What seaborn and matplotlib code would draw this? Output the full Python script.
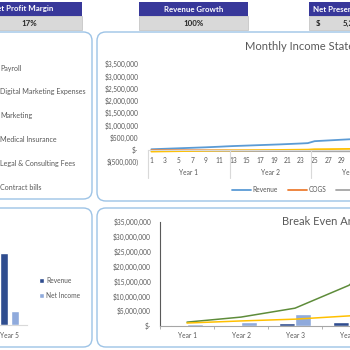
import matplotlib
matplotlib.use("Agg")
import matplotlib.pyplot as plt
import matplotlib.patches as mpatches
import matplotlib.transforms as mtransforms
import seaborn as sns
import pandas as pd

sns.set_theme(style="white")
plt.rcParams['font.family'] = ['Lato', 'DejaVu Sans']

# ---- data ----
kpi_titles = ["Net Profit Margin", "Revenue Growth", "Net Present Value"]
kpi_values = ["17%", "100%", "5,214,000"]

expense_labels = ["Payroll", "Digital Marketing Expenses", "Marketing",
                  "Medical Insurance", "Legal & Consulting Fees", "Contract bills"]

months = list(range(1, 37))
revenue_m = [20000, 30000, 40000, 50000, 60000, 70000, 80000, 90000, 100000, 112000, 124000, 138000,
             150000, 160000, 170000, 180000, 190000, 200000, 210000, 220000, 232000, 244000, 256000, 270000,
             350000, 365000, 380000, 395000, 410000, 425000, 440000, 455000, 470000, 485000, 500000, 515000]
cogs_m = [-15000, -16000, -17000, -18000, -19000, -20000, -21000, -22000, -23000, -24000, -25000, -26000,
          -30000, -31000, -32000, -33000, -34000, -35000, -36000, -37000, -38000, -39000, -40000, -41000,
          -45000, -46000, -47000, -48000, -49000, -50000, -51000, -52000, -53000, -54000, -55000, -56000]
opex_m = [-40000, -40000, -41000, -41000, -42000, -42000, -43000, -43000, -44000, -44000, -45000, -45000,
          -50000, -50000, -51000, -51000, -52000, -52000, -53000, -53000, -54000, -54000, -55000, -55000,
          -60000, -60000, -61000, -61000, -62000, -62000, -63000, -63000, -64000, -64000, -65000, -65000]
netinc_m = [-75000, -70000, -66000, -62000, -58000, -54000, -50000, -46000, -42000, -38000, -34000, -30000,
            -28000, -25000, -22000, -19000, -16000, -13000, -10000, -7000, -4000, -1000, 2000, 5000,
            20000, 22000, 25000, 28000, 31000, 34000, 37000, 40000, 43000, 46000, 49000, 52000]
all_months = list(range(1, 61))

years = ["Year 1", "Year 2", "Year 3", "Year 4", "Year 5"]
rev_year = [3000000, 6000000, 11000000, 18000000, 26000000]
ni_year = [300000, 900000, 1800000, 3000000, 5000000]

be_dark = [500000, 300000, 1000000, 1400000, 2000000]
be_light = [600000, 1300000, 4000000, 8400000, 16000000]
be_green = [1300000, 3000000, 6000000, 13700000, 30000000]
be_yellow = [1000000, 1700000, 2300000, 3400000, 5000000]

W = H = 350.0
def fx(px):
    return px / W
def fy(py):
    return 1 - py / H

grey_txt = '#595959'
navy = '#2F4D8F'
light = '#8FAADC'
tick_fs = 4.8

fig = plt.figure(figsize=(3.5, 3.5), dpi=100)
fig.patch.set_facecolor('white')

# panels
for x0, y0, x1, y1 in [(-20, 32, 92, 199), (97, 32, 390, 201), (-20, 208, 92, 347), (97, 208, 390, 347)]:
    p = mpatches.FancyBboxPatch((fx(x0), fy(y1)), fx(x1 - x0), (y1 - y0) / H,
                                boxstyle="round,pad=0,rounding_size=0.025",
                                transform=fig.transFigure, facecolor='white',
                                edgecolor='#9DC3E6', lw=1.0, zorder=0)
    fig.add_artist(p)

# KPI boxes
for (x0, x1), t in zip([(-10, 82), (139, 248), (309, 380)], kpi_titles):
    fig.add_artist(mpatches.Rectangle((fx(x0), fy(16)), fx(x1 - x0), 14 / H, transform=fig.transFigure,
                                      facecolor='#38389A', edgecolor='none'))
    fig.add_artist(mpatches.Rectangle((fx(x0), fy(30)), fx(x1 - x0), 13.5 / H, transform=fig.transFigure,
                                      facecolor='#D9D9D9', edgecolor='#BFBFBF', lw=0.5))
fig.text(fx(-9), fy(9), kpi_titles[0], ha='left', va='center', color='white', fontsize=5.7, weight='bold')
fig.text(fx(193.5), fy(9), kpi_titles[1], ha='center', va='center', color='white', fontsize=5.7, weight='bold')
fig.text(fx(313), fy(9), kpi_titles[2], ha='left', va='center', color='white', fontsize=5.7, weight='bold')
fig.text(fx(29), fy(23.5), kpi_values[0], ha='center', va='center', color='#262626', fontsize=5.7, weight='bold')
fig.text(fx(193.5), fy(23.5), kpi_values[1], ha='center', va='center', color='#262626', fontsize=5.7, weight='bold')
fig.text(fx(316), fy(23.5), "$", ha='left', va='center', color='#262626', fontsize=5.7, weight='bold')
fig.text(fx(343), fy(23.5), kpi_values[2], ha='left', va='center', color='#262626', fontsize=5.7, weight='bold')

# expense list
for i, lab in enumerate(expense_labels):
    fig.text(fx(0), fy(68 + i * 23.8), lab, ha='left', va='center', color=grey_txt, fontsize=5.1)

# ---- monthly income statement ----
ax1 = fig.add_axes([fx(148), fy(162), 408 / W, 98 / H])
ax1.set_facecolor('none')
df_m = pd.DataFrame({"Month": months, "Revenue": revenue_m, "COGS": cogs_m,
                     "Operating Expenses": opex_m, "Net Income": netinc_m})
df_long = df_m.melt(id_vars="Month", var_name="Series", value_name="Value")
sns.lineplot(data=df_long, x="Month", y="Value", hue="Series", ax=ax1, lw=1.3,
             palette=['#5B9BD5', '#ED7D31', '#A5A5A5', '#FFC000'])
handles, labels = ax1.get_legend_handles_labels()
ax1.get_legend().remove()
ax1.set_xlim(0.5, 60.5)
ax1.set_ylim(-500000, 3500000)
yt = list(range(-500000, 3500001, 500000))
ax1.set_yticks(yt)
ax1.set_yticklabels(["$-" if v == 0 else ("$({:,})".format(-v) if v < 0 else "${:,}".format(v)) for v in yt])
ax1.set_xticks(all_months[::2])
ax1.set_xticklabels([str(m) for m in all_months[::2]])
ax1.tick_params(axis='both', length=0, labelsize=tick_fs, colors=grey_txt)
ax1.tick_params(axis='y', pad=7)
ax1.tick_params(axis='x', pad=5)
for s in ['top', 'right', 'left']:
    ax1.spines[s].set_visible(False)
ax1.spines['bottom'].set_position(('data', 0))
ax1.spines['bottom'].set_color('#D9D9D9')
ax1.spines['bottom'].set_linewidth(0.8)
ax1.set_xlabel('')
ax1.set_ylabel('')
tr = mtransforms.blended_transform_factory(ax1.transData, ax1.transAxes)
for b in [0.5, 12.5, 24.5, 36.5, 48.5, 60.5]:
    ax1.plot([b, b], [0.125, -0.163], transform=tr, clip_on=False, color='#D9D9D9', lw=0.8)
for i in range(5):
    ax1.text(6.5 + 12 * i, -0.112, "Year %d" % (i + 1), transform=tr, ha='center', va='center',
             fontsize=tick_fs, color=grey_txt)
fig.text(fx(245), fy(47), "Monthly Income Statement", ha='left', va='center', fontsize=8, color=grey_txt)
fig.legend(handles, labels, loc='center left', bbox_to_anchor=(fx(232), fy(190)), ncol=4, frameon=False,
           fontsize=tick_fs, handlelength=2.8, columnspacing=1.5, handletextpad=0.3, borderpad=0,
           borderaxespad=0, labelcolor=grey_txt)

# ---- yearly revenue / net income ----
ax2 = fig.add_axes([fx(-148), fy(325), 175 / W, 83 / H])
ax2.set_facecolor('none')
df_y = pd.DataFrame({"Year": years * 2, "Metric": ["Revenue"] * 5 + ["Net Income"] * 5,
                     "Value": rev_year + ni_year})
sns.barplot(data=df_y, x="Year", y="Value", hue="Metric", ax=ax2, width=0.6, gap=0.25,
            palette=[navy, light], saturation=1)
h2, l2 = ax2.get_legend_handles_labels()
ax2.get_legend().remove()
ax2.set_xlim(-0.5, 4.5)
ax2.set_ylim(0, 30000000)
ax2.set_yticks([])
ax2.tick_params(axis='x', length=0, labelsize=tick_fs, colors=grey_txt, pad=5)
for s in ['top', 'right', 'left']:
    ax2.spines[s].set_visible(False)
ax2.spines['bottom'].set_color('#D9D9D9')
ax2.spines['bottom'].set_linewidth(0.8)
ax2.set_xlabel('')
ax2.set_ylabel('')
fig.legend(h2, l2, loc='center left', bbox_to_anchor=(fx(39), fy(288)), ncol=1, frameon=False,
           fontsize=tick_fs, handlelength=0.7, handleheight=0.7, handletextpad=0.4, labelspacing=1.2,
           borderpad=0, borderaxespad=0, labelcolor=grey_txt)

# ---- break even analysis ----
ax3 = fig.add_axes([fx(160), fy(326), 270 / W, 104 / H])
ax3.set_facecolor('none')
df_be = pd.DataFrame({"Year": years * 2, "Series": ["Fixed Costs"] * 5 + ["Variable Costs"] * 5,
                      "Value": be_dark + be_light})
sns.barplot(data=df_be, x="Year", y="Value", hue="Series", ax=ax3, width=0.58,
            palette=[navy, light], saturation=1, legend=False)
sns.lineplot(x=years, y=be_green, ax=ax3, color='#5E8C3A', lw=1.1)
sns.lineplot(x=years, y=be_yellow, ax=ax3, color='#FFC000', lw=1.1)
ax3.set_xlim(-0.5, 4.5)
ax3.set_ylim(0, 35000000)
yt3 = list(range(0, 35000001, 5000000))
ax3.set_yticks(yt3)
ax3.set_yticklabels(["$-" if v == 0 else "${:,}".format(v) for v in yt3])
ax3.set_xticks([i - 0.5 for i in range(6)], minor=True)
ax3.tick_params(axis='x', which='minor', length=2, color='#A6A6A6', width=0.6, direction='out', bottom=True)
ax3.tick_params(axis='x', which='major', length=0, labelsize=tick_fs, colors=grey_txt, pad=4)
ax3.tick_params(axis='y', length=0, labelsize=tick_fs, colors=grey_txt, pad=6.5)
for s in ['top', 'right']:
    ax3.spines[s].set_visible(False)
ax3.spines['left'].set_color('#595959')
ax3.spines['left'].set_linewidth(0.8)
ax3.spines['bottom'].set_color('#A6A6A6')
ax3.spines['bottom'].set_linewidth(0.8)
ax3.set_xlabel('')
ax3.set_ylabel('')
fig.text(fx(282), fy(222), "Break Even Analysis", ha='left', va='center', fontsize=8, color=grey_txt)

fig.savefig("out.png", dpi=100)
